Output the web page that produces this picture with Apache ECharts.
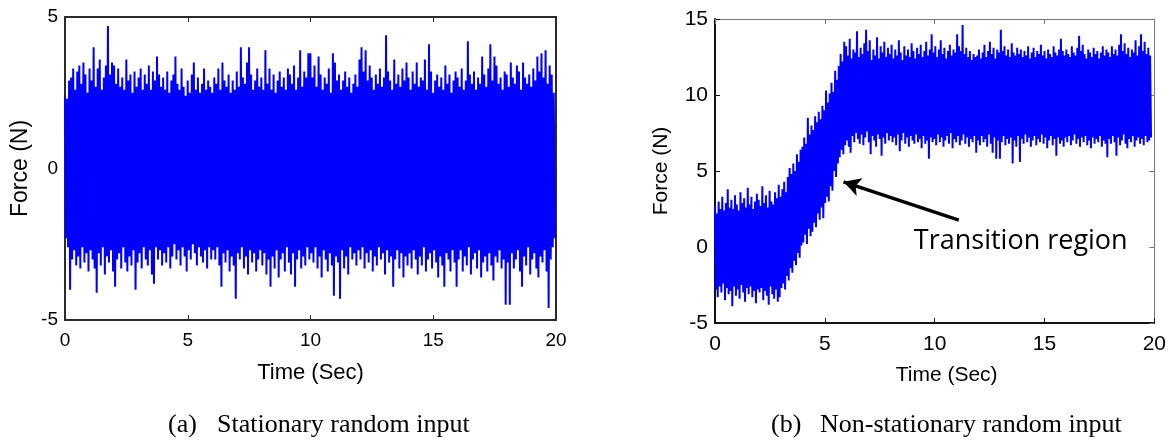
<!DOCTYPE html>
<html>
<head>
<meta charset="utf-8">
<script src="https://cdn.jsdelivr.net/npm/echarts@6/dist/echarts.min.js"></script>
<style>
  html, body { margin: 0; padding: 0; background: #fff; }
  #chart { width: 1169px; height: 446px; }
</style>
</head>
<body>
<div id="chart"></div>
<script>
// Stationary record: successive local maxima / minima of the force signal (N), 12 per second
const stationaryPeaks = [
  2.4,2.3,2.9,3.0,3.3,2.6,3.2,3.4,2.8,3.5,3.1,2.5,3.3,2.9,4.0,2.7,3.3,3.6,2.6,3.0,3.4,4.7,3.1,3.5,
  3.4,2.8,3.3,2.7,3.0,2.6,3.6,2.9,3.1,2.5,3.2,2.7,3.0,3.3,2.6,3.1,2.8,3.4,2.6,3.2,2.9,3.7,3.1,2.7,
  3.0,2.6,3.2,2.5,2.9,3.1,3.7,2.8,2.6,3.3,2.7,2.4,2.9,2.5,3.1,3.5,2.6,3.0,2.5,2.8,3.3,2.6,2.9,2.7,
  2.5,3.0,2.8,3.3,2.6,3.5,2.9,2.7,3.1,2.5,2.9,2.6,3.2,2.7,4.0,3.0,2.8,3.5,4.0,3.1,2.6,2.9,3.3,2.7,
  3.0,2.6,3.9,2.8,3.3,2.6,3.1,2.5,2.9,3.2,2.7,3.0,2.6,3.3,3.1,2.8,3.4,2.6,3.0,3.9,2.7,3.2,3.0,3.8,
  3.8,3.0,3.4,2.7,3.7,3.1,2.6,3.0,2.8,3.3,2.5,3.8,3.5,2.9,3.1,2.6,2.9,3.2,2.7,3.0,2.5,2.8,3.1,2.7,
  3.6,4.0,3.2,3.9,2.9,3.4,3.0,2.6,3.1,2.8,3.3,2.7,3.0,4.4,3.2,2.9,2.6,3.6,2.8,3.1,2.7,3.3,2.9,3.5,
  3.0,2.6,3.2,2.8,3.5,2.7,3.0,2.9,3.6,2.6,4.1,3.2,2.5,2.9,3.1,2.7,3.0,2.6,3.4,2.8,3.1,2.5,2.9,3.2,
  3.0,2.7,3.3,2.6,2.9,4.2,3.1,2.8,3.2,2.6,3.0,2.8,3.7,3.1,2.7,3.3,4.1,2.9,3.7,3.4,2.8,3.0,2.6,3.2,
  3.1,2.7,3.5,3.0,2.8,3.4,3.2,2.6,3.5,3.0,2.8,3.1,2.7,3.3,2.9,3.7,3.2,3.8,3.0,3.9,2.8,3.4,3.1,2.5
];
const stationaryTroughs = [
  -2.3,-2.6,-4.0,-3.0,-2.7,-3.2,-2.9,-3.3,-2.6,-3.1,-2.8,-3.4,-2.7,-3.0,-3.3,-4.1,-2.8,-3.2,-2.6,-3.5,-2.9,-3.1,-2.7,-3.4,
  -3.9,-3.0,-2.8,-3.3,-2.6,-3.1,-3.4,-2.9,-3.2,-2.7,-4.0,-3.1,-2.8,-3.3,-2.6,-3.0,-3.2,-2.7,-3.5,-3.8,-2.6,-3.0,-2.7,-3.2,
  -2.8,-3.1,-2.6,-3.3,-2.9,-2.5,-3.0,-2.7,-3.2,-2.6,-2.9,-3.4,-2.7,-3.0,-2.5,-2.8,-3.2,-2.6,-2.9,-3.1,-2.7,-3.3,-2.6,-3.0,
  -2.7,-3.0,-2.6,-3.2,-3.9,-2.8,-3.1,-2.7,-3.4,-2.9,-3.2,-4.3,-2.8,-3.0,-2.6,-3.3,-2.9,-3.5,-2.7,-3.1,-2.8,-3.4,-3.0,-2.7,
  -3.2,-2.8,-3.5,-3.0,-3.9,-2.9,-3.3,-2.7,-3.6,-3.0,-2.8,-3.4,-2.6,-3.1,-3.5,-2.8,-3.9,-3.0,-2.7,-3.3,-2.9,-3.2,-2.6,-3.0,
  -2.8,-3.1,-2.6,-3.3,-2.9,-3.6,-2.7,-3.0,-3.4,-2.8,-3.2,-4.2,-2.9,-3.1,-4.3,-2.7,-3.3,-2.9,-3.5,-2.6,-3.0,-2.8,-3.2,-2.7,
  -3.0,-2.6,-3.3,-2.8,-3.1,-2.7,-3.4,-2.9,-3.2,-2.6,-3.0,-2.8,-3.5,-2.7,-3.1,-2.9,-3.9,-3.0,-2.7,-3.3,-2.8,-3.6,-2.9,-3.2,
  -2.8,-3.3,-2.7,-3.0,-3.5,-2.9,-3.2,-2.6,-3.4,-3.0,-2.8,-3.3,-2.7,-3.1,-3.6,-2.9,-3.2,-3.9,-2.8,-3.0,-3.4,-2.7,-3.1,-3.9,
  -3.0,-2.7,-3.4,-2.9,-3.2,-2.6,-3.5,-3.0,-2.8,-3.3,-2.7,-3.6,-3.1,-2.9,-3.4,-2.8,-3.2,-3.7,-2.9,-3.1,-2.7,-3.3,-3.0,-4.5,
  -3.1,-4.5,-2.8,-3.3,-3.0,-2.7,-3.4,-3.9,-2.9,-3.2,-2.6,-3.5,-3.0,-2.8,-3.3,-3.6,-2.9,-3.1,-2.7,-3.4,-4.6,-3.0,-2.6,-2.3
];

// Non-stationary record: local maxima / minima (N), 12 per second
const nonStationaryPeaks = [
  2.7,2.2,3.0,2.5,3.3,2.4,2.9,3.8,2.6,3.1,2.5,3.4,2.8,2.4,3.6,2.9,3.2,2.6,3.9,2.8,3.3,2.5,3.0,3.5,
  3.1,2.7,4.0,2.9,3.4,2.6,3.7,3.0,2.8,3.6,3.2,4.1,3.3,3.8,4.3,3.6,4.6,5.2,4.8,5.5,5.0,6.1,5.6,6.4,
  6.6,7.2,6.8,8.5,7.4,8.0,7.7,8.6,8.2,8.9,8.4,9.3,9.0,10.3,9.5,10.1,10.8,10.2,11.6,11.0,11.9,12.7,12.2,13.5,
  13.2,12.6,13.7,12.4,13.0,12.8,14.2,12.5,13.1,12.7,13.4,14.3,12.9,13.6,12.3,13.0,12.6,13.8,12.4,13.2,12.8,13.5,12.5,13.1,
  12.7,13.3,12.4,13.0,12.6,13.6,12.8,12.3,13.2,12.6,13.0,12.5,13.4,12.9,12.4,13.1,12.7,13.3,12.5,12.9,13.5,12.6,13.0,14.0,
  12.8,13.2,12.5,13.0,13.6,12.7,13.1,12.4,12.9,13.3,12.6,13.0,12.8,14.0,13.2,12.9,14.6,12.7,13.1,12.5,12.9,12.3,12.7,12.5,
  12.6,13.0,12.4,12.8,13.3,12.5,12.9,13.5,12.7,13.1,12.4,13.0,12.8,14.3,12.9,13.2,12.6,13.0,12.5,13.4,12.8,12.6,13.1,12.7,
  13.0,12.5,12.9,12.6,13.2,12.4,12.8,13.1,12.5,12.9,12.7,13.3,12.6,12.9,12.4,13.0,12.7,12.5,13.2,12.8,12.6,13.0,13.7,12.9,
  12.6,13.0,12.7,12.5,13.2,12.8,12.6,13.1,13.9,12.9,13.3,12.7,12.4,13.0,12.8,12.5,13.1,12.7,12.9,12.4,12.8,13.2,12.6,13.0,
  12.8,12.5,13.2,12.7,13.0,12.6,13.3,14.0,12.9,13.4,12.7,13.1,12.5,13.0,12.8,13.6,12.6,13.2,14.0,12.9,13.5,12.7,13.1,12.6
];
const nonStationaryTroughs = [
  -2.8,-3.3,-2.6,-3.0,-2.4,-3.5,-2.7,-3.1,-2.9,-3.9,-2.6,-3.2,-2.8,-3.4,-2.5,-3.0,-3.6,-2.7,-3.1,-2.6,-3.3,-2.9,-3.7,-2.8,
  -3.0,-2.7,-3.5,-2.9,-3.2,-3.8,-2.6,-3.1,-3.4,-2.8,-3.6,-3.3,-2.7,-2.4,-2.8,-1.9,-2.2,-1.4,-1.7,-0.9,-1.2,-0.4,-0.7,0.1,
  0.3,0.8,0.2,1.2,0.7,1.0,1.6,1.3,2.2,1.8,2.6,1.9,2.9,3.3,3.0,4.0,3.7,5.0,4.6,5.5,5.9,6.4,6.1,6.7,
  7.0,6.6,6.2,7.3,6.9,7.5,7.1,6.8,7.4,6.7,7.2,7.6,6.9,6.1,7.3,7.0,6.6,7.4,7.1,6.0,7.2,6.8,7.5,7.0,
  7.3,6.9,7.2,6.7,7.4,6.3,7.0,7.5,6.8,7.2,6.6,7.3,7.0,6.8,7.4,6.9,7.1,6.5,7.3,6.8,7.0,5.8,7.2,6.9,
  7.1,6.7,7.4,6.9,7.2,6.6,7.0,7.3,6.8,7.5,6.5,7.1,6.9,7.3,6.7,7.0,7.4,6.8,7.2,6.6,7.1,6.9,7.3,6.2,
  7.0,6.7,7.3,6.9,7.1,6.6,7.4,6.8,6.2,7.2,5.8,7.0,5.8,6.9,7.3,6.7,7.1,6.8,7.2,5.5,7.0,6.6,7.3,5.6,
  7.1,6.8,7.4,6.9,7.2,6.6,7.0,7.3,6.7,7.1,6.9,7.4,6.8,7.2,6.5,7.0,7.3,6.7,7.1,6.0,7.2,6.8,7.0,6.6,
  7.2,6.9,7.3,6.7,7.0,7.4,6.8,7.1,6.6,7.2,6.9,7.3,6.7,7.0,6.5,7.2,6.8,7.1,6.9,7.3,6.6,7.0,6.8,5.9,
  7.1,6.8,7.3,6.9,6.0,7.2,6.7,7.0,7.4,6.8,6.5,7.1,6.9,7.3,6.6,7.0,7.2,6.8,7.1,6.7,7.3,6.9,7.0,7.2
];

const stationaryEnd = 19.95;      // last sample time (s)
const nonStationaryEnd = 19.85;
const timeRange = [0, 20];
const stationaryForceRange = [-5, 5];
const nonStationaryForceRange = [-5, 15];
const tickStep = 5;
const arrowTail = [11.1, 1.77];   // (s, N)
const arrowTip = [5.85, 4.29];
const transitionLabelAt = [9.05, 0.4];

// Interleave maxima and minima into one evenly sampled trace
function toTrace(peaks, troughs, tEnd) {
  const n = peaks.length + troughs.length;
  const out = [];
  for (let i = 0; i < peaks.length; i++) {
    out.push([(2 * i) * tEnd / (n - 1), peaks[i]]);
    out.push([(2 * i + 1) * tEnd / (n - 1), troughs[i]]);
  }
  return out;
}

const SANS = '"Liberation Sans", Arial, sans-serif';

function xAxes(grid, labelSize, nameSize, namePad, strong, weak) {
  const base = {
    type: 'value', gridIndex: grid, min: timeRange[0], max: timeRange[1], interval: tickStep,
    splitLine: { show: false },
    axisTick: { show: true, inside: true, length: 5, lineStyle: { color: strong.color, width: 1 } }
  };
  return [
    Object.assign({}, base, {
      position: 'bottom',
      axisLine: { show: true, onZero: false, lineStyle: strong },
      axisLabel: { show: true, color: '#000', fontFamily: SANS, fontSize: labelSize, margin: 11 },
      name: 'Time (Sec)', nameLocation: 'middle', nameGap: 42,
      nameTextStyle: { color: '#000', fontFamily: SANS, fontSize: nameSize, padding: namePad }
    }),
    Object.assign({}, base, {
      position: 'top',
      axisLine: { show: true, onZero: false, lineStyle: weak },
      axisTick: { show: true, inside: true, length: 5, lineStyle: { color: weak.color, width: 1 } },
      axisLabel: { show: false }
    })
  ];
}

function yAxes(grid, range, labelSize, nameSize, nameGap, strong, weak) {
  const base = {
    type: 'value', gridIndex: grid, min: range[0], max: range[1], interval: tickStep,
    splitLine: { show: false },
    axisTick: { show: true, inside: true, length: 5, lineStyle: { color: strong.color, width: 1 } }
  };
  return [
    Object.assign({}, base, {
      position: 'left',
      axisLine: { show: true, onZero: false, lineStyle: strong },
      axisLabel: { show: true, color: '#000', fontFamily: SANS, fontSize: labelSize, margin: 7 },
      name: 'Force (N)', nameLocation: 'middle', nameRotate: 90, nameGap: nameGap,
      nameTextStyle: { color: '#000', fontFamily: SANS, fontSize: nameSize }
    }),
    Object.assign({}, base, {
      position: 'right',
      axisLine: { show: true, onZero: false, lineStyle: weak },
      axisTick: { show: true, inside: true, length: 5, lineStyle: { color: weak.color, width: 1 } },
      axisLabel: { show: false }
    })
  ];
}

const leftStrong = { color: '#2b2b2b', width: 2 };
const rightStrong = { color: '#111', width: 2 };
const rightWeak = { color: '#777', width: 1 };

const chart = echarts.init(document.getElementById('chart'), null, { renderer: 'canvas' });

const captionStyle = { fill: '#000', fontFamily: '"Liberation Serif", "Times New Roman", serif', fontSize: 26 };

chart.setOption({
  animation: false,
  backgroundColor: '#fff',
  grid: [
    { left: 65, top: 17, width: 491, height: 303 },
    { left: 715, top: 19, width: 440, height: 304 }
  ],
  xAxis: [].concat(
    xAxes(0, 19, 22, 0, leftStrong, leftStrong),
    xAxes(1, 21, 21, [0, 0, 0, 24], rightStrong, rightWeak)
  ),
  yAxis: [].concat(
    yAxes(0, stationaryForceRange, 19, 23, 33, leftStrong, leftStrong),
    yAxes(1, nonStationaryForceRange, 21, 21, 43, rightStrong, rightWeak)
  ),
  series: [
    {
      type: 'line', xAxisIndex: 0, yAxisIndex: 0,
      data: toTrace(stationaryPeaks, stationaryTroughs, stationaryEnd),
      showSymbol: false, symbol: 'none', sampling: null,
      lineStyle: { color: '#0000ff', width: 2 },
      silent: true
    },
    {
      type: 'line', xAxisIndex: 2, yAxisIndex: 2,
      data: toTrace(nonStationaryPeaks, nonStationaryTroughs, nonStationaryEnd),
      showSymbol: false, symbol: 'none', sampling: null,
      lineStyle: { color: '#0000ff', width: 2 },
      silent: true,
      markLine: {
        silent: true, animation: false,
        symbol: ['none', 'arrow'], symbolSize: [14, 17],
        lineStyle: { color: '#000', width: 3.5, type: 'solid' },
        label: { show: false },
        data: [[{ coord: arrowTail }, { coord: arrowTip }]]
      },
      markPoint: {
        silent: true, animation: false,
        symbol: 'circle', symbolSize: 0,
        label: {
          show: true, position: 'right', distance: 0,
          formatter: 'Transition region', color: '#000',
          fontFamily: '"Open Sans", "Noto Sans", sans-serif', fontSize: 27
        },
        data: [{ coord: transitionLabelAt }]
      }
    }
  ],
  graphic: [
    { type: 'text', left: 168, top: 412, style: Object.assign({ text: '(a)' }, captionStyle) },
    { type: 'text', left: 217, top: 412, style: Object.assign({ text: 'Stationary random input' }, captionStyle) },
    { type: 'text', left: 771, top: 412, style: Object.assign({ text: '(b)' }, captionStyle) },
    { type: 'text', left: 820, top: 412, style: Object.assign({ text: 'Non-stationary random input' }, captionStyle) }
  ]
});
</script>
</body>
</html>
